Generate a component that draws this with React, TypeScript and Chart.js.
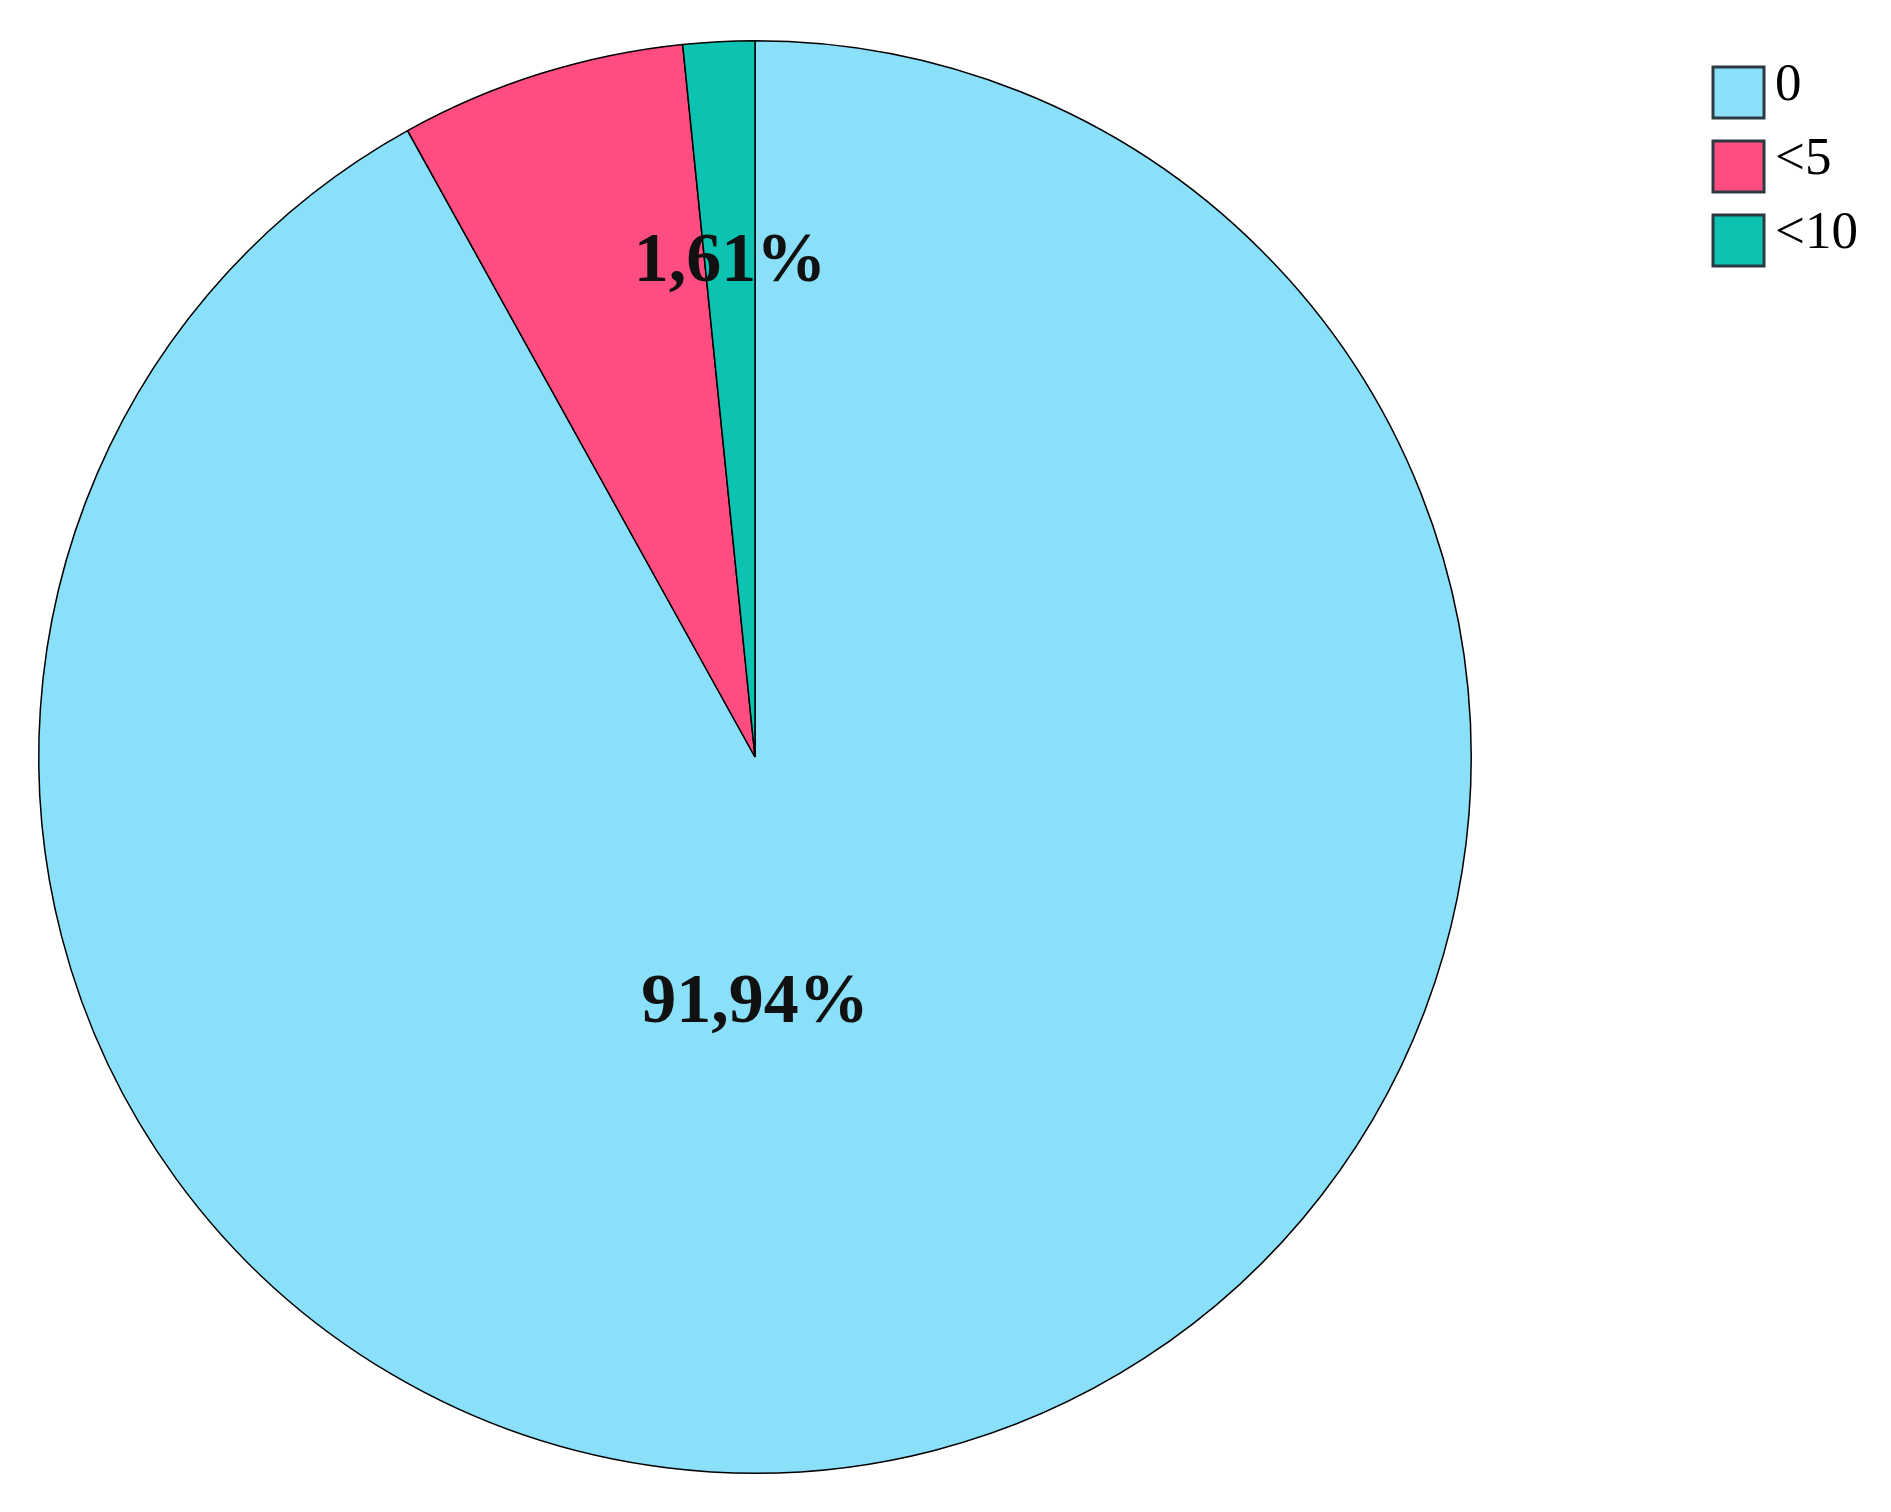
import React, { useEffect, useRef } from "react";
import { Chart, registerables } from "chart.js";

Chart.register(...registerables);

const categories = ["0", "<5", "<10"];
const values = [91.94, 6.45, 1.61];
const sliceLabels = ["91,94%", "", "1,61%"];
const colors = ["#8ADFF9", "#FF4D82", "#0CC3B1"];

const labelPlugin = {
  id: "sliceLabels",
  afterDatasetsDraw(chart: any) {
    const ctx = chart.ctx;
    const meta = chart.getDatasetMeta(0);
    ctx.save();
    ctx.font = "bold 70px 'Liberation Serif', serif";
    ctx.fillStyle = "#111";
    ctx.textAlign = "center";
    ctx.textBaseline = "middle";
    const place = [
      { frac: 0.345, angleOverride: Math.PI / 2 + 0.0 },
      null,
      { frac: 0.69, angleOverride: null },
    ];
    meta.data.forEach((arc: any, i: number) => {
      const txt = sliceLabels[i];
      if (!txt) return;
      const p = arc.getProps(["x", "y", "startAngle", "endAngle", "outerRadius"], true);
      const cfg: any = place[i] || { frac: 0.5, angleOverride: null };
      const a = cfg.angleOverride !== null ? cfg.angleOverride : (p.startAngle + p.endAngle) / 2;
      const r = p.outerRadius * cfg.frac;
      ctx.fillText(txt, p.x + Math.cos(a) * r, p.y + Math.sin(a) * r);
    });
    ctx.restore();
  },
};

const legendPlugin = {
  id: "boxLegend",
  afterDraw(chart: any) {
    const ctx = chart.ctx;
    ctx.save();
    const x0 = 1713;
    const y0 = 67;
    const step = 74;
    const bw = 51;
    const bh = 51;
    ctx.font = "53px 'Liberation Serif', serif";
    ctx.textBaseline = "middle";
    ctx.textAlign = "left";
    categories.forEach((c, i) => {
      const y = y0 + i * step;
      ctx.fillStyle = colors[i];
      ctx.fillRect(x0, y, bw, bh);
      ctx.lineWidth = 3;
      ctx.strokeStyle = "#2a3a40";
      ctx.strokeRect(x0, y, bw, bh);
      ctx.fillStyle = "#000";
      ctx.fillText(c, x0 + 62, y + bh / 2 - 6);
    });
    ctx.restore();
  },
};

export default function App() {
  const ref = useRef<HTMLCanvasElement>(null);
  useEffect(() => {
    if (!ref.current) return;
    const chart = new Chart(ref.current, {
      type: "pie",
      data: {
        labels: categories,
        datasets: [
          {
            data: values,
            backgroundColor: colors,
            borderColor: "#000",
            borderWidth: 1.5,
          },
        ],
      },
      options: {
        animation: false,
        responsive: false,
        maintainAspectRatio: false,
        layout: { padding: { left: 38, right: 419, top: 40, bottom: 38 } },
        plugins: {
          legend: { display: false },
          tooltip: { enabled: false },
        },
      },
      plugins: [labelPlugin, legendPlugin],
    });
    return () => chart.destroy();
  }, []);
  return (
    <div style={{ position: "absolute", left: 0, top: 0, width: 1891, height: 1512, background: "#fff" }}>
      <canvas ref={ref} width={1891} height={1512} style={{ width: 1891, height: 1512 }} />
    </div>
  );
}
